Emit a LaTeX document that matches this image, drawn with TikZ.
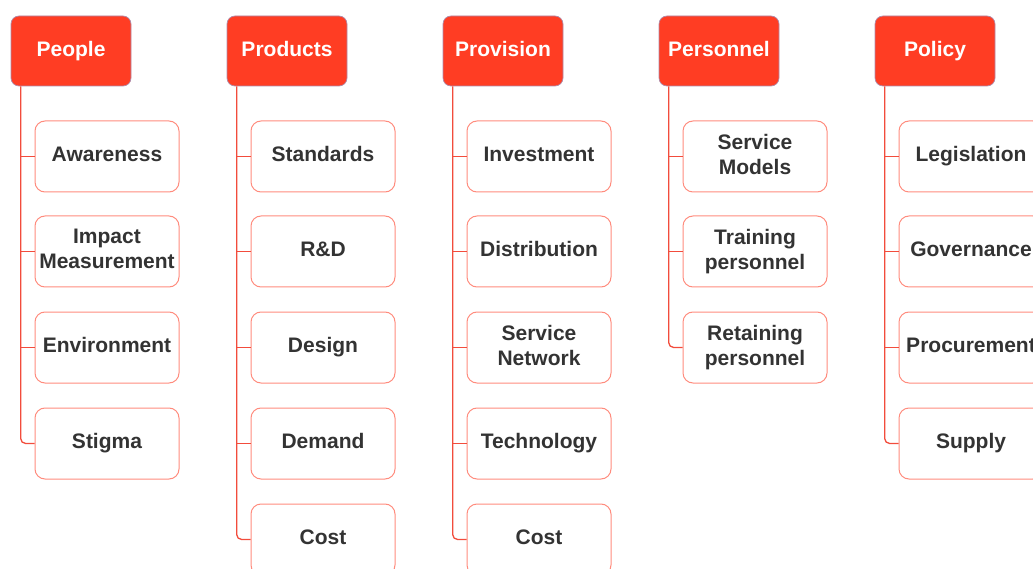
\documentclass[tikz,border=0pt]{standalone}
\usepackage{fontspec}
\setmainfont{Liberation Sans}
\definecolor{hdred}{RGB}{255,61,35}
\definecolor{hdborder}{RGB}{175,140,170}
\definecolor{lnred}{RGB}{242,76,60}
\definecolor{leafborder}{RGB}{255,140,126}
\definecolor{txt}{RGB}{51,51,51}
\newcommand\lbl[1]{#1\rule[-5pt]{0pt}{0pt}}
\tikzset{
  head/.style={rectangle, rounded corners=8pt, fill=hdred, draw=hdborder, line width=0.7pt,
    minimum width=120pt, minimum height=70pt, inner sep=0pt, text=white,
    font=\bfseries\fontsize{21}{25}\selectfont},
  leaf/.style={rectangle, rounded corners=10pt, draw=leafborder, line width=1pt, fill=white,
    minimum width=144pt, minimum height=71pt, inner sep=0pt, align=center, text=txt,
    font=\bfseries\fontsize{21}{25}\selectfont},
  conn/.style={draw=lnred, line width=1.3pt}
}
\begin{document}
\begin{tikzpicture}[x=1pt,y=-1pt]
\useasboundingbox (0,0) rectangle (1033,569);
\clip (0,0) rectangle (1033,569);

% headers
\node[head] (h1) at (71,51) {\lbl{People}};
\node[head] (h2) at (287,51) {\lbl{Products}};
\node[head] (h3) at (503,51) {\lbl{Provision}};
\node[head] (h4) at (719,51) {\lbl{Personnel}};
\node[head] (h5) at (935,51) {\lbl{Policy}};

\coordinate (s1) at ([xshift=10pt]h1.south west);
\coordinate (s2) at ([xshift=10pt]h2.south west);
\coordinate (s3) at ([xshift=10pt]h3.south west);
\coordinate (s4) at ([xshift=10pt]h4.south west);
\coordinate (s5) at ([xshift=10pt]h5.south west);

% People
\node[leaf] (a1) at (107,156.5) {\lbl{Awareness}};
\node[leaf] (a2) at (107,251.5) {Impact\\\lbl{Measurement}};
\node[leaf] (a3) at (107,347.5) {\lbl{Environment}};
\node[leaf] (a4) at (107,443.5) {\lbl{Stigma}};

% Products
\node[leaf] (b1) at (323,156.5) {\lbl{Standards}};
\node[leaf] (b2) at (323,251.5) {\lbl{R\&D}};
\node[leaf] (b3) at (323,347.5) {\lbl{Design}};
\node[leaf] (b4) at (323,443.5) {\lbl{Demand}};
\node[leaf] (b5) at (323,539.5) {\lbl{Cost}};

% Provision
\node[leaf] (c1) at (539,156.5) {\lbl{Investment}};
\node[leaf] (c2) at (539,251.5) {\lbl{Distribution}};
\node[leaf] (c3) at (539,347.5) {Service\\\lbl{Network}};
\node[leaf] (c4) at (539,443.5) {\lbl{Technology}};
\node[leaf] (c5) at (539,539.5) {\lbl{Cost}};

% Personnel
\node[leaf] (d1) at (755,156.5) {Service\\\lbl{Models}};
\node[leaf] (d2) at (755,251.5) {Training\\\lbl{personnel}};
\node[leaf] (d3) at (755,347.5) {Retaining\\\lbl{personnel}};

% Policy
\node[leaf] (e1) at (971,156.5) {\lbl{Legislation}};
\node[leaf] (e2) at (971,251.5) {\lbl{Governance}};
\node[leaf] (e3) at (971,347.5) {\lbl{Procurement}};
\node[leaf] (e4) at (971,443.5) {\lbl{Supply}};

% connectors
\foreach \n in {a1,a2,a3} \draw[conn] (\n.west) -- (\n.west -| s1);
\draw[conn, rounded corners=5pt] (s1) |- (a4.west);
\foreach \n in {b1,b2,b3,b4} \draw[conn] (\n.west) -- (\n.west -| s2);
\draw[conn, rounded corners=5pt] (s2) |- (b5.west);
\foreach \n in {c1,c2,c3,c4} \draw[conn] (\n.west) -- (\n.west -| s3);
\draw[conn, rounded corners=5pt] (s3) |- (c5.west);
\foreach \n in {d1,d2} \draw[conn] (\n.west) -- (\n.west -| s4);
\draw[conn, rounded corners=5pt] (s4) |- (d3.west);
\foreach \n in {e1,e2,e3} \draw[conn] (\n.west) -- (\n.west -| s5);
\draw[conn, rounded corners=5pt] (s5) |- (e4.west);
\end{tikzpicture}
\end{document}
